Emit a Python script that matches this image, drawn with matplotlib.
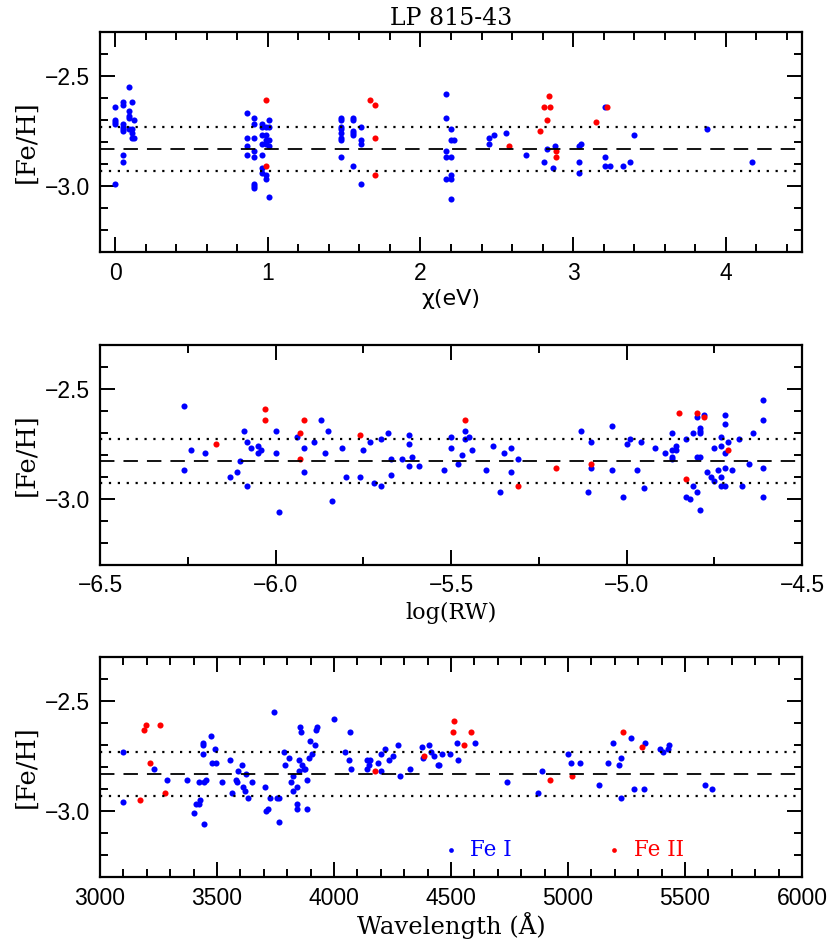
import matplotlib
matplotlib.use("Agg")
import matplotlib.pyplot as plt
from matplotlib.ticker import MultipleLocator, FuncFormatter

# ---- data ----
FEH_MEAN = -2.83
FEH_SIG = 0.10

# panel 1: excitation potential (eV)
chi_fe1 = [0.00, 0.00, 0.00, 0.00, 0.00, 0.05, 0.05, 0.05, 0.05, 0.05, 0.05, 0.05, 0.05,
           0.09, 0.09, 0.09, 0.09, 0.09, 0.11, 0.12, 0.11, 0.11, 0.11, 0.12,
           0.86, 0.86, 0.86, 0.86, 0.91, 0.91, 0.91, 0.91, 0.91, 0.91, 0.91, 0.91,
           0.96, 0.96, 0.96, 0.96, 0.96, 0.96, 0.96, 0.99, 0.99, 0.99, 0.99, 0.99, 0.99,
           1.01, 1.01, 1.01, 1.01, 1.01,
           1.48, 1.48, 1.48, 1.48, 1.48, 1.48, 1.48, 1.48,
           1.56, 1.56, 1.56, 1.56, 1.56, 1.56, 1.61, 1.61, 1.61, 1.61,
           2.17, 2.17, 2.17, 2.17, 2.17, 2.20, 2.20, 2.20, 2.20, 2.20, 2.20, 2.22,
           2.45, 2.45, 2.48, 2.56, 2.69, 2.81, 2.83, 2.87, 2.88,
           3.04, 3.05, 3.04, 3.04, 3.21, 3.21, 3.21, 3.24, 3.33, 3.37, 3.40, 3.88, 4.17]
chi_fe1_feh = [-2.64, -2.99, -2.70, -2.71, -2.72, -2.62, -2.63, -2.72, -2.73, -2.74, -2.75, -2.86, -2.89,
               -2.55, -2.66, -2.68, -2.69, -2.74, -2.62, -2.70, -2.74, -2.76, -2.78, -2.78,
               -2.67, -2.78, -2.82, -2.86, -2.69, -2.72, -2.78, -2.84, -2.87, -2.99, -3.00, -3.01,
               -2.72, -2.73, -2.77, -2.81, -2.86, -2.92, -2.94, -2.73, -2.77, -2.79, -2.81, -2.95, -2.97,
               -2.70, -2.73, -2.79, -2.82, -3.05,
               -2.69, -2.70, -2.73, -2.74, -2.76, -2.78, -2.79, -2.87,
               -2.69, -2.70, -2.75, -2.76, -2.77, -2.91, -2.73, -2.79, -2.81, -2.99,
               -2.58, -2.69, -2.84, -2.87, -2.97, -2.74, -2.79, -2.87, -2.95, -2.97, -3.06, -2.79,
               -2.78, -2.81, -2.77, -2.76, -2.86, -2.89, -2.83, -2.92, -2.82,
               -2.82, -2.81, -2.89, -2.94, -2.87, -2.64, -2.91, -2.91, -2.91, -2.89, -2.77, -2.74, -2.89]
chi_fe2 = [0.99, 0.99, 1.67, 1.70, 1.70, 1.70, 2.58, 2.78, 2.81, 2.83, 2.84, 2.85, 2.89, 2.89, 3.15, 3.22]
chi_fe2_feh = [-2.61, -2.91, -2.61, -2.63, -2.78, -2.95, -2.82, -2.75, -2.64, -2.70, -2.59, -2.64,
               -2.84, -2.87, -2.71, -2.64]

# panel 2: log reduced width
rw_fe1 = [-6.26, -6.26, -6.24, -6.20, -6.13, -6.11, -6.10, -6.09, -6.08, -6.08, -6.07, -6.05, -6.05,
          -6.04, -6.00, -6.00, -5.99, -5.94, -5.92, -5.92, -5.89, -5.87, -5.86, -5.85, -5.84,
          -5.81, -5.80, -5.76, -5.75, -5.73, -5.72, -5.70, -5.70, -5.68, -5.67, -5.67, -5.64,
          -5.62, -5.62, -5.62, -5.61, -5.59, -5.52, -5.50, -5.50, -5.48, -5.47,
          -5.46, -5.46, -5.45, -5.44, -5.40, -5.38, -5.36, -5.35, -5.33, -5.33, -5.31,
          -5.13, -5.10, -5.10, -5.11, -5.04, -5.04, -5.01, -5.00, -4.99, -4.97, -4.96, -4.95,
          -4.92, -4.89, -4.87, -4.87, -4.87, -4.87, -4.86, -4.86, -4.83, -4.83, -4.82, -4.81,
          -4.80, -4.80, -4.80, -4.81, -4.79, -4.79, -4.79, -4.79, -4.79, -4.78, -4.77, -4.76,
          -4.75, -4.75, -4.74, -4.73, -4.73, -4.73, -4.73, -4.72, -4.72, -4.72, -4.72, -4.72,
          -4.71, -4.70, -4.68, -4.67, -4.65, -4.64, -4.61, -4.61, -4.61, -4.61]
rw_fe1_feh = [-2.58, -2.87, -2.78, -2.79, -2.90, -2.88, -2.83, -2.69, -2.74, -2.94, -2.77, -2.76, -2.79,
              -2.78, -2.69, -2.79, -3.06, -2.72, -2.77, -2.88, -2.74, -2.64, -2.79, -2.69, -3.01,
              -2.77, -2.90, -2.90, -2.78, -2.74, -2.93, -2.73, -2.94, -2.70, -2.82, -2.89, -2.82,
              -2.71, -2.75, -2.85, -2.81, -2.85, -2.87, -2.72, -2.77, -2.84, -2.80,
              -2.69, -2.73, -2.72, -2.78, -2.87, -2.76, -2.97, -2.79, -2.77, -2.88, -2.82,
              -2.69, -2.74, -2.86, -2.97, -2.67, -2.87, -2.99, -2.75, -2.73, -2.87, -2.74, -2.95,
              -2.77, -2.79, -2.70, -2.78, -2.81, -2.82, -2.76, -2.78, -2.73, -2.99, -3.00, -2.94,
              -2.97, -2.63, -2.81, -2.70, -2.68, -2.69, -2.70, -2.81, -3.05, -2.62, -2.88, -2.90,
              -2.77, -2.92, -2.87, -2.72, -2.76, -2.90, -2.94, -2.62, -2.66, -2.79, -2.86, -2.94,
              -2.74, -2.87, -2.73, -2.94, -2.84, -2.70, -2.55, -2.64, -2.86, -2.99]
rw_fe2 = [-6.17, -6.03, -6.03, -5.93, -5.93, -5.92, -5.76, -5.46, -5.31, -5.20, -5.10, -4.85,
          -4.83, -4.80, -4.78, -4.71]
rw_fe2_feh = [-2.75, -2.59, -2.64, -2.70, -2.82, -2.64, -2.71, -2.64, -2.94, -2.86, -2.84, -2.61,
              -2.91, -2.61, -2.63, -2.78]

# panel 3: wavelength (A)
wl_fe1 = [3100, 3100, 3231, 3286, 3370, 3402, 3412, 3424, 3427, 3424, 3439, 3442, 3442, 3446, 3453,
          3446, 3476, 3477, 3491, 3497, 3521, 3556, 3564, 3581, 3587, 3588, 3608, 3610, 3618, 3624,
          3631, 3648, 3705, 3709, 3719, 3728, 3744, 3756, 3765, 3766, 3786, 3789, 3808, 3815, 3825,
          3826, 3840, 3840, 3842, 3850, 3850, 3856, 3860, 3865, 3873, 3877, 3886, 3886, 3895, 3899,
          3907, 3920, 3922, 3929, 4001, 4046, 4067, 4063, 4071, 4141, 4141, 4148, 4154, 4188, 4201,
          4201, 4217, 4234, 4251, 4272, 4282, 4326, 4376, 4382, 4405, 4415, 4427, 4443, 4450, 4460,
          4494, 4527, 4528, 4603, 4738, 4870, 4890, 5001, 5013, 5051, 5134, 5171, 5194, 5216, 5226,
          5226, 5269, 5282, 5325, 5328, 5395, 5405, 5429, 5433, 5587, 5615]
wl_fe1_feh = [-2.73, -2.96, -2.81, -2.86, -2.86, -3.01, -2.97, -2.97, -2.95, -2.87, -2.70, -2.69,
              -2.74, -2.87, -2.86, -3.06, -2.66, -2.78, -2.72, -2.78, -2.87, -2.77, -2.92, -2.86,
              -2.87, -2.82, -2.79, -2.89, -2.91, -2.83, -2.94, -2.87, -2.89, -3.00, -2.99, -2.94,
              -2.55, -2.94, -2.94, -3.05, -2.73, -2.79, -2.76, -2.87, -2.84, -2.91, -2.97, -2.99,
              -2.89, -2.77, -2.82, -2.62, -2.64, -2.79, -2.81, -2.81, -2.86, -2.99, -2.76, -2.68,
              -2.74, -2.70, -2.63, -2.62, -2.58, -2.73, -2.64, -2.77, -2.81, -2.81, -2.77, -2.79,
              -2.77, -2.78, -2.74, -2.82, -2.72, -2.77, -2.75, -2.70, -2.84, -2.81, -2.71, -2.76,
              -2.70, -2.73, -2.75, -2.79, -2.79, -2.74, -2.74, -2.69, -2.77, -2.69, -2.87, -2.92,
              -2.82, -2.74, -2.78, -2.78, -2.88, -2.78, -2.69, -2.79, -2.76, -2.94, -2.67, -2.90,
              -2.90, -2.69, -2.72, -2.73, -2.72, -2.70, -2.88, -2.90]
wl_fe2 = [3170, 3187, 3197, 3214, 3256, 3278, 4177, 4385, 4509, 4514, 4556, 4584, 4923, 5019,
          5234, 5315]
wl_fe2_feh = [-2.95, -2.63, -2.61, -2.78, -2.61, -2.92, -2.82, -2.75, -2.64, -2.59, -2.70, -2.64,
              -2.86, -2.84, -2.64, -2.71]

BLUE = "#0000ff"
RED = "#ff0000"
SERIF = ["DejaVu Serif"]
plt.rcParams["font.family"] = ["Liberation Sans", "DejaVu Sans"]


def minus_fmt(fmt):
    return FuncFormatter(lambda v, pos: (fmt % v).replace("-", "\u2212"))


fig = plt.figure(figsize=(8.30, 9.48), dpi=100)
left, width, height = 0.1205, 0.8458, 0.2321
bottoms = [0.7342, 0.4043, 0.0749]

panels = [
    (chi_fe1, chi_fe1_feh, chi_fe2, chi_fe2_feh, (-0.1, 4.5), 1.0, 0.2, "%d"),
    (rw_fe1, rw_fe1_feh, rw_fe2, rw_fe2_feh, (-6.5, -4.5), 0.5, 0.25, "%.1f"),
    (wl_fe1, wl_fe1_feh, wl_fe2, wl_fe2_feh, (3000, 6000), 500, 100, "%d"),
]

axes = []
for b, (x1, y1, x2, y2, xlim, maj, mnr, fmt) in zip(bottoms, panels):
    ax = fig.add_axes([left, b, width, height])
    ax.plot(x1, y1, "o", color=BLUE, ms=4.4, mew=0)
    ax.plot(x2, y2, "o", color=RED, ms=4.4, mew=0)
    ax.axhline(FEH_MEAN, color="black", lw=1.3, ls=(0, (8, 5)))
    ax.axhline(FEH_MEAN + FEH_SIG, color="black", lw=1.6, ls=(0, (1, 3)))
    ax.axhline(FEH_MEAN - FEH_SIG, color="black", lw=1.6, ls=(0, (1, 3)))
    ax.set_xlim(*xlim)
    ax.set_ylim(-3.3, -2.3)
    ax.xaxis.set_major_locator(MultipleLocator(maj))
    ax.xaxis.set_minor_locator(MultipleLocator(mnr))
    ax.xaxis.set_major_formatter(minus_fmt(fmt))
    ax.yaxis.set_major_locator(MultipleLocator(0.5))
    ax.yaxis.set_minor_locator(MultipleLocator(0.1))
    ax.yaxis.set_major_formatter(minus_fmt("%.1f"))
    ax.tick_params(which="both", direction="in", top=True, right=True, width=1.4,
                   labelsize=16.5)
    ax.tick_params(which="major", length=11, pad=7)
    ax.tick_params(which="minor", length=6)
    for s in ax.spines.values():
        s.set_linewidth(1.6)
    ax.set_ylabel("[Fe/H]", fontsize=18.5, family=SERIF, labelpad=5)
    axes.append(ax)

axes[0].set_title("LP 815-43", fontsize=17, family=SERIF, pad=5)
axes[0].set_xlabel("χ(eV)", fontsize=16, family=["DejaVu Sans"], labelpad=3)
axes[1].set_xlabel("log(RW)", fontsize=16, family=SERIF, labelpad=3)
axes[2].set_xlabel("Wavelength (Å)", fontsize=17.5, family=SERIF, labelpad=2)

# legend drawn inside the bottom panel
ax = axes[2]
ax.plot([4499], [-3.177], "o", color=BLUE, ms=3.4, mew=0)
ax.text(4580, -3.177, "Fe I", color=BLUE, fontsize=15.5, family=SERIF, va="center")
ax.plot([5198], [-3.177], "o", color=RED, ms=3.4, mew=0)
ax.text(5280, -3.177, "Fe II", color=RED, fontsize=15.5, family=SERIF, va="center")

fig.savefig("out.png", dpi=100)
